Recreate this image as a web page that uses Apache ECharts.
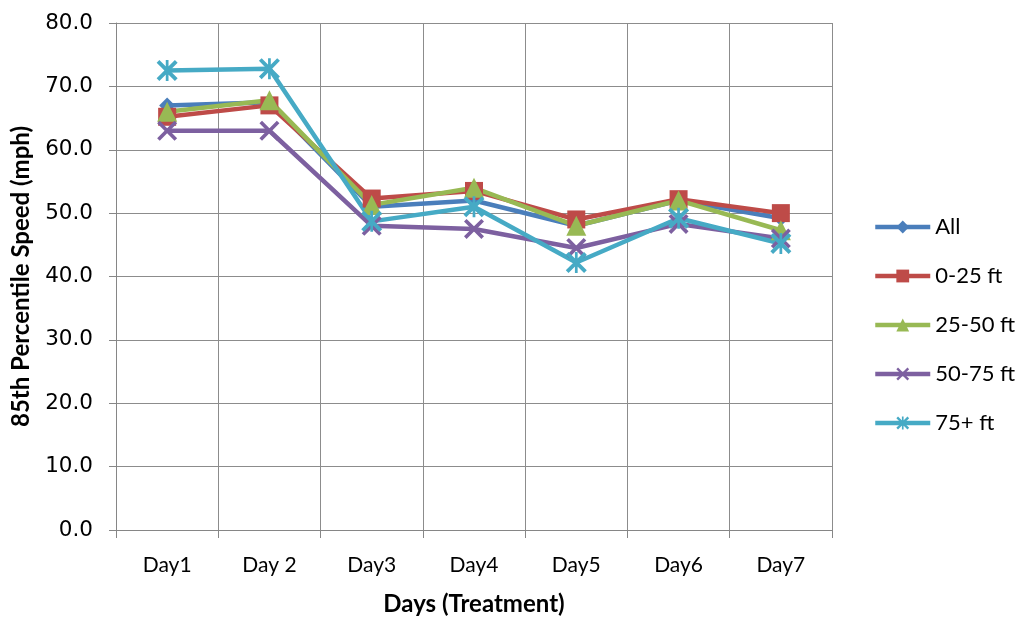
<!DOCTYPE html>
<html>
<head>
<meta charset="utf-8">
<script src="https://cdn.jsdelivr.net/npm/echarts@6/dist/echarts.min.js"></script>
<style>html,body{margin:0;padding:0;background:#fff;}#c{width:1020px;height:618px;}</style>
</head>
<body>
<div id="c"></div>
<script>
var categories = ['Day1', 'Day 2', 'Day3', 'Day4', 'Day5', 'Day6', 'Day7'];
var seriesNames = ['All', '0-25 ft', '25-50 ft', '50-75 ft', '75+ ft'];
var allData   = [67.0, 67.5, 51.0, 52.0, 48.0, 52.0, 49.2];
var d0_25     = [65.2, 67.0, 52.3, 53.5, 49.0, 52.2, 50.0];
var d25_50    = [66.0, 67.8, 51.3, 54.0, 48.0, 52.0, 47.3];
var d50_75    = [63.0, 63.0, 48.0, 47.5, 44.5, 48.3, 46.0];
var d75plus   = [72.5, 72.8, 48.7, 51.0, 42.2, 49.2, 45.2];
var yTicks = { min: 0, max: 80, interval: 10 };

var colors = ['#4A7EBB', '#BE4B48', '#98B954', '#7D60A0', '#46AAC5'];
var xPath = 'path://M0,1.3L1.3,0L5,3.7L8.7,0L10,1.3L6.3,5L10,8.7L8.7,10L5,6.3L1.3,10L0,8.7L3.7,5Z';
var starPath = 'path://M0,1.3L1.3,0L5,3.7L8.7,0L10,1.3L6.3,5L10,8.7L8.7,10L5,6.3L1.3,10L0,8.7L3.7,5Z M4.35,0L5.65,0L5.65,10L4.35,10Z';
var symbols = ['diamond', 'rect', 'triangle', xPath, starPath];
var sizes = [16, 18, 20, 20, 21];
var datas = [allData, d0_25, d25_50, d50_75, d75plus];

var series = seriesNames.map(function (n, i) {
  return {
    name: n, type: 'line', data: datas[i],
    symbol: symbols[i], symbolSize: sizes[i], showAllSymbol: true,
    lineStyle: { width: 4.5, color: colors[i] },
    itemStyle: { color: colors[i] },
    emphasis: { disabled: true },
    animation: false
  };
});

var chart = echarts.init(document.getElementById('c'));
chart.setOption({
  animation: false,
  color: colors,
  grid: { left: 116, right: 188, top: 23, bottom: 88, containLabel: false, outerBoundsMode: 'none' },
  legend: {
    orient: 'vertical', left: 868, top: 211,
    itemWidth: 55, itemHeight: 16, itemGap: 27,
    data: seriesNames,
    lineStyle: { width: 4.5 },
    textStyle: { fontFamily: 'Lato', fontSize: 22, lineHeight: 22, color: '#000' }
  },
  xAxis: {
    type: 'category', data: categories, boundaryGap: true,
    name: 'Days (Treatment)', nameLocation: 'middle', nameGap: 62,
    nameTextStyle: { fontFamily: 'Lato', fontWeight: 'bold', fontSize: 24, color: '#000' },
    axisLine: { lineStyle: { color: '#868686', width: 1 } },
    axisTick: { show: true, length: 8, lineStyle: { color: '#868686' } },
    axisLabel: { fontFamily: 'Lato', fontSize: 21, color: '#000', margin: 25 },
    splitLine: { show: true, lineStyle: { color: '#8c8c8c', width: 1 } }
  },
  yAxis: {
    type: 'value', min: yTicks.min, max: yTicks.max, interval: yTicks.interval,
    name: '85th Percentile Speed (mph)', nameLocation: 'middle', nameGap: 83,
    nameTextStyle: { fontFamily: 'Lato', fontWeight: 'bold', fontSize: 24, color: '#000' },
    axisLine: { show: true, lineStyle: { color: '#868686', width: 1 } },
    axisTick: { show: true, length: 7, lineStyle: { color: '#868686' } },
    axisLabel: { fontFamily: 'DejaVu Sans', fontSize: 21.5, color: '#000', margin: 23,
      formatter: function (v) { return v.toFixed(1); } },
    splitLine: { show: true, lineStyle: { color: '#8c8c8c', width: 1 } }
  },
  series: series
});
</script>
</body>
</html>
